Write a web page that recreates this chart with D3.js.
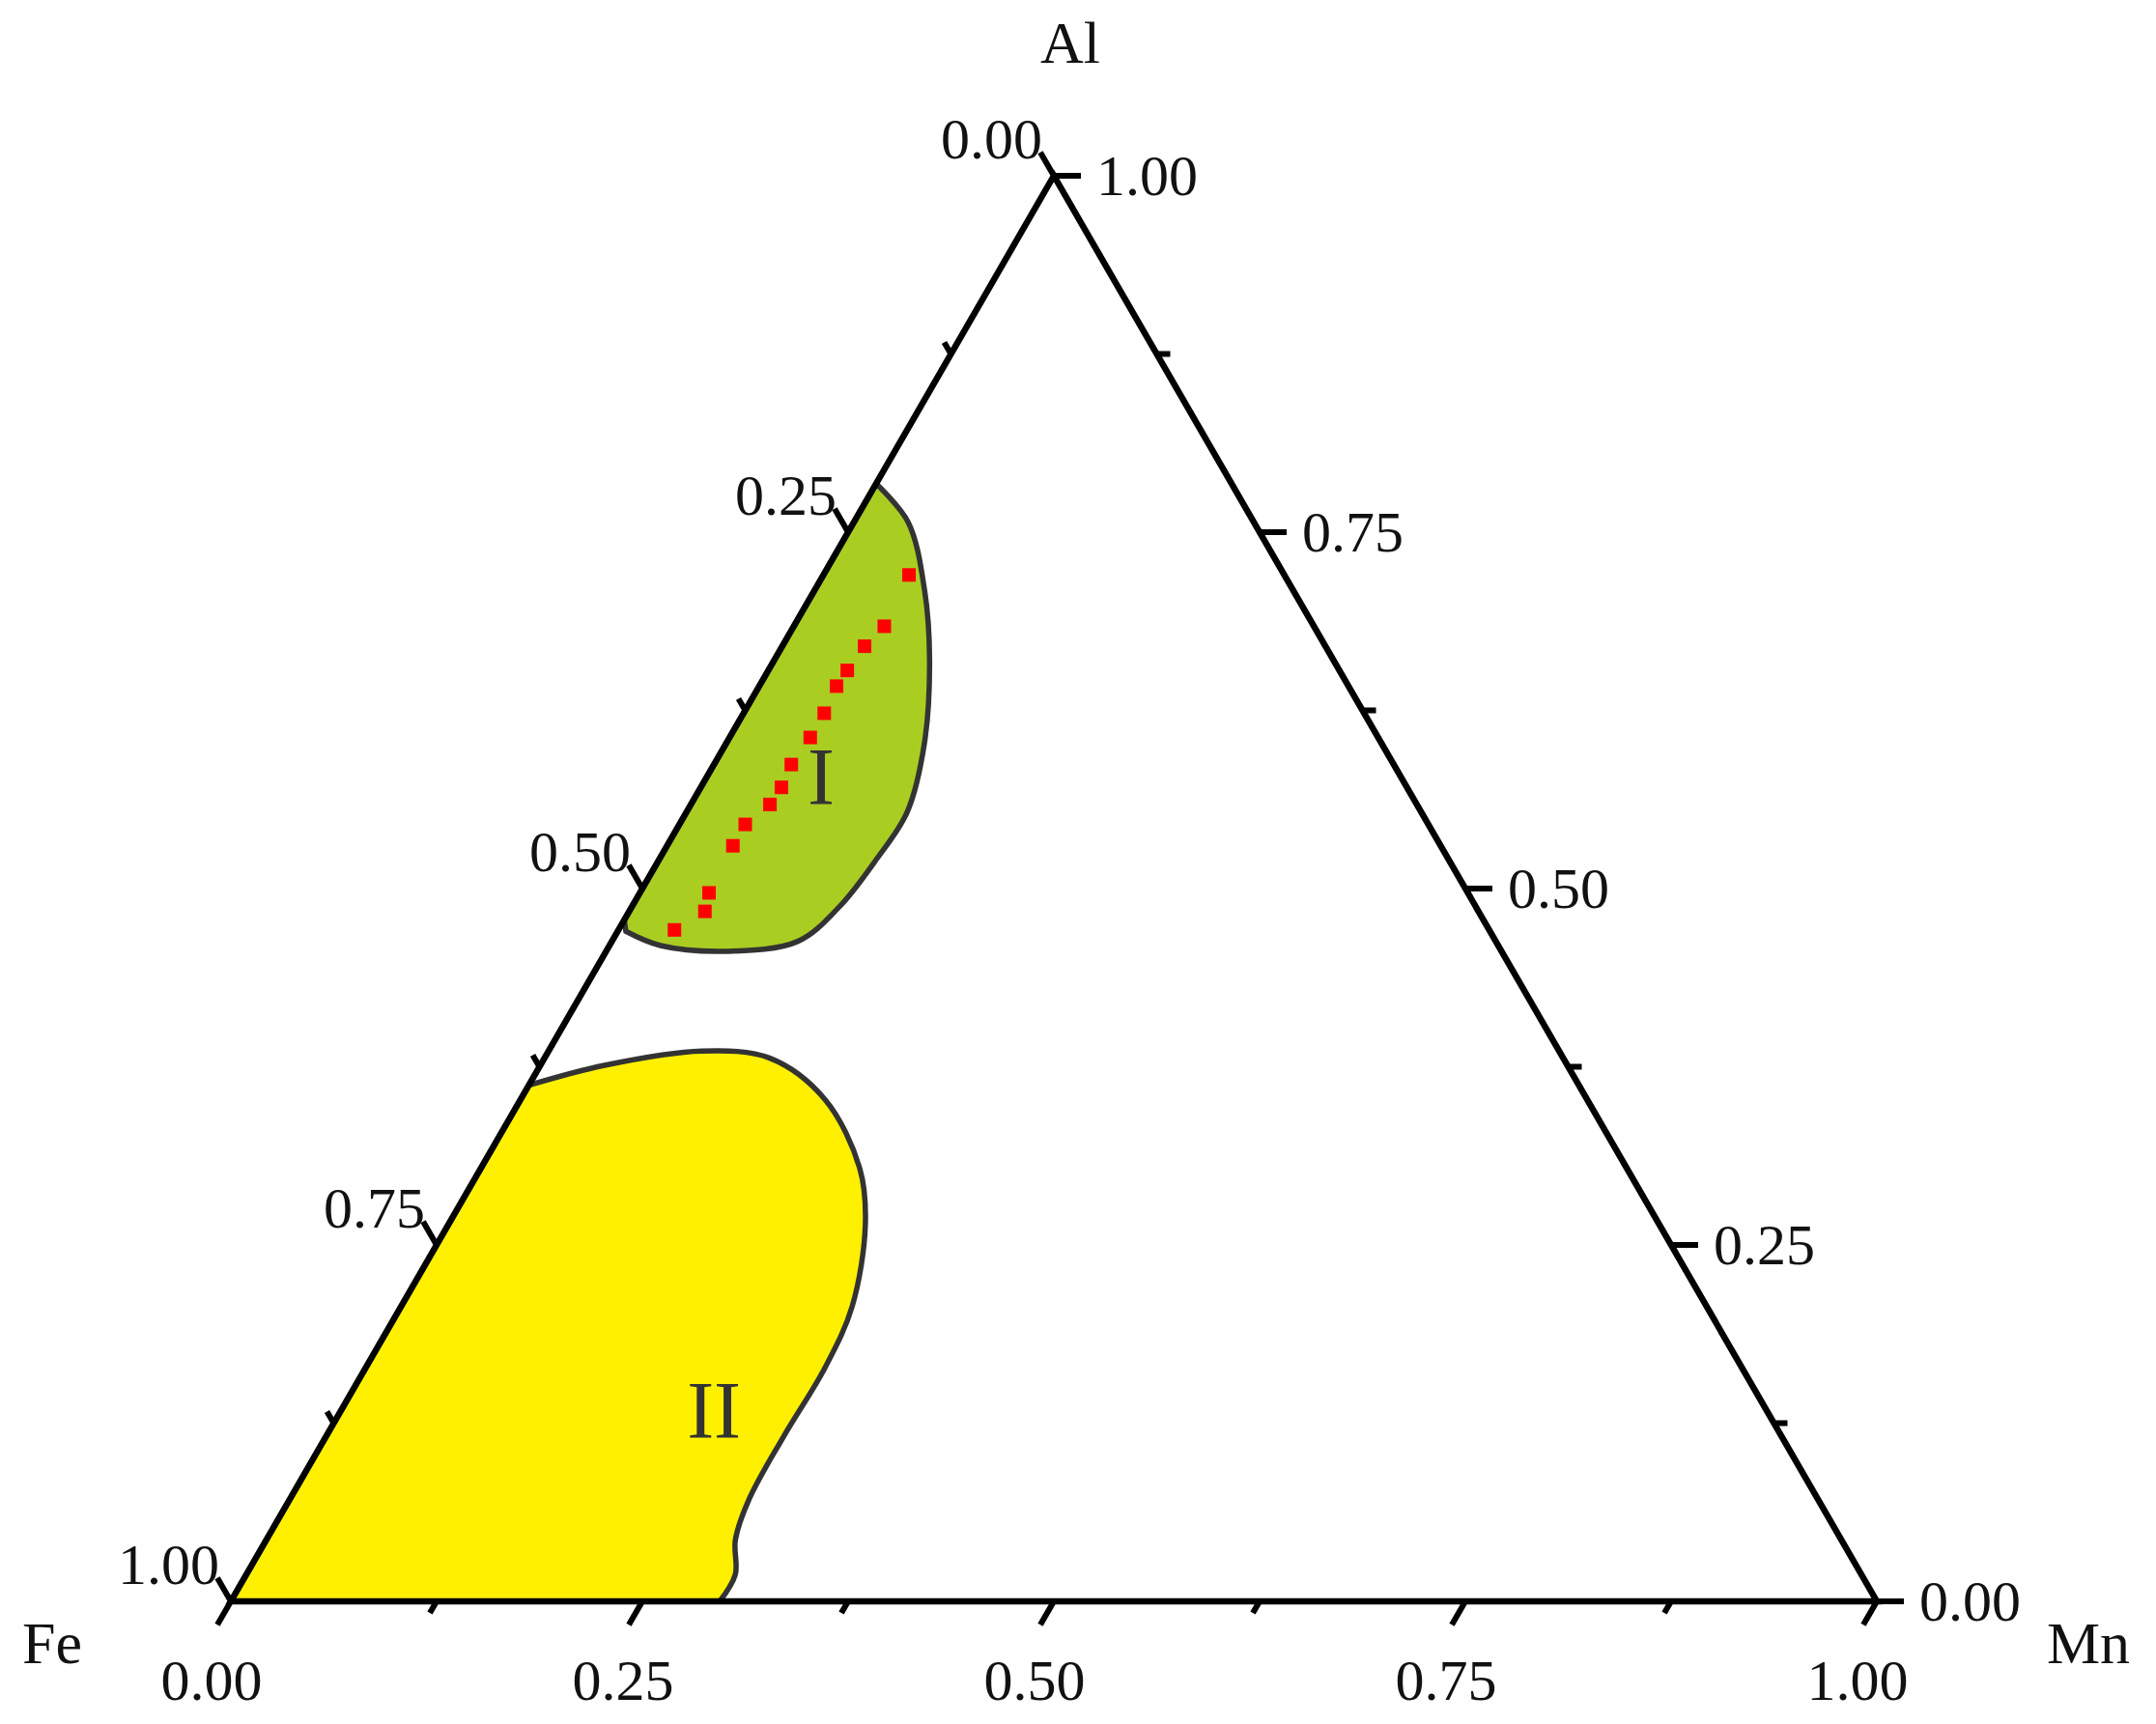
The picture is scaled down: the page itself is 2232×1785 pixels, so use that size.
<!DOCTYPE html><html><head><meta charset="utf-8">
<script src="https://cdn.jsdelivr.net/npm/d3@7"></script>
<style>body{margin:0;background:#fff}text{font-family:"Liberation Serif","Times New Roman",serif;fill:#111}</style>
</head><body><svg id="c" width="2232" height="1785"></svg>
<script>
// ternary data: [Mn, Al] (Fe = 1 - Mn - Al)
const regionI = [[0,0.784],[0.033,0.757],[0.067,0.709],[0.094,0.661],[0.120,0.603],[0.134,0.554],[0.132,0.521],[0.126,0.487],[0.113,0.463],[0.074,0.456],[0.031,0.460],[0.005,0.470],[0,0.478]];
const regionII = [[0,0.362],[0.039,0.376],[0.093,0.386],[0.137,0.381],[0.185,0.352],[0.230,0.304],[0.253,0.265],[0.274,0.207],[0.279,0.164],[0.278,0.116],[0.279,0.072],[0.285,0.043],[0.297,0.019],[0.297,0],[0,0]];
const points = [[0.052,0.720],[0.055,0.684],[0.050,0.670],[0.048,0.653],[0.047,0.642],[0.049,0.623],[0.049,0.606],[0.047,0.587],[0.049,0.571],[0.048,0.559],[0.040,0.545],[0.040,0.530],[0.042,0.497],[0.046,0.484],[0.034,0.471]];
const regionLabels = [{t:"I",mn:0.069,al:0.579},{t:"II",mn:0.226,al:0.135}];
const majorTicks = [0,0.25,0.5,0.75,1];
const minorTicks = [0.125,0.375,0.625,0.875];
const tickLabels = ["0.00","0.25","0.50","0.75","1.00"];

const svg = d3.select("#c");
const sx = d3.scaleLinear().domain([0,1]).range([239,1943]);
const sy = d3.scaleLinear().domain([0,1]).range([1658,182]);
const P = (mn,al)=>[sx(mn+al/2), sy(al)];
const line = d3.line().curve(d3.curveCatmullRom.alpha(0.5));
const lin = d3.line();

svg.append("path").attr("d", line(regionII.slice(0,14).map(d=>P(...d))) + "L" + P(0,0) + "Z")
  .attr("fill","#fff000").attr("stroke","#333").attr("stroke-width",5.5);
svg.append("path").attr("d", line(regionI.slice(0,12).map(d=>P(...d))) + "L" + P(0,0.478)+"Z")
  .attr("fill","#aacd22").attr("stroke","#333").attr("stroke-width",5.5);

svg.selectAll(".pt").data(points).enter().append("rect")
  .attr("x",d=>P(...d)[0]-7).attr("y",d=>P(...d)[1]-7).attr("width",14).attr("height",14).attr("fill","#ff0000");

svg.append("path").attr("d", lin([P(0,0),P(1,0),P(0,1)])+"Z").attr("fill","none").attr("stroke","#000").attr("stroke-width",6.5).attr("stroke-linejoin","miter");

const L1=28, L2=14;
function ticks(pos, dir, len){ return [pos,[pos[0]+dir[0]*len,pos[1]+dir[1]*len]]; }
const dB=[-0.5,0.866], dR=[1,0], dL=[-0.5,-0.866];
const g = svg.append("g").attr("stroke","#000").attr("stroke-width",6);
[...majorTicks.map(v=>[v,L1]),...minorTicks.map(v=>[v,L2])].forEach(([v,l])=>{
  g.append("path").attr("d",lin(ticks(P(v,0),dB,l)));
  g.append("path").attr("d",lin(ticks(P(1-v,v),dR,l)));
  g.append("path").attr("d",lin(ticks(P(0,1-v),dL,l)));
});
const fs=60;
majorTicks.forEach((v,i)=>{
  const b=P(v,0); svg.append("text").attr("x",b[0]-20).attr("y",b[1]+102).attr("text-anchor","middle").attr("font-size",fs).text(tickLabels[i]);
  const r=P(1-v,v); svg.append("text").attr("x",r[0]+L1+16).attr("y",r[1]+20).attr("font-size",fs).text(tickLabels[i]);
  const l=P(0,1-v); svg.append("text").attr("x",l[0]-12).attr("y",l[1]-18).attr("text-anchor","end").attr("font-size",fs).text(tickLabels[i]);
});
svg.append("text").attr("x",1108).attr("y",65).attr("text-anchor","middle").attr("font-size",62).text("Al");
svg.append("text").attr("x",54).attr("y",1722).attr("text-anchor","middle").attr("font-size",62).text("Fe");
svg.append("text").attr("x",2162).attr("y",1722).attr("text-anchor","middle").attr("font-size",62).text("Mn");
regionLabels.forEach(d=>{const p=P(d.mn,d.al); svg.append("text").attr("x",p[0]).attr("y",p[1]+30).attr("text-anchor","middle").attr("font-size",84).style("fill","#333").text(d.t);});
</script></body></html>
